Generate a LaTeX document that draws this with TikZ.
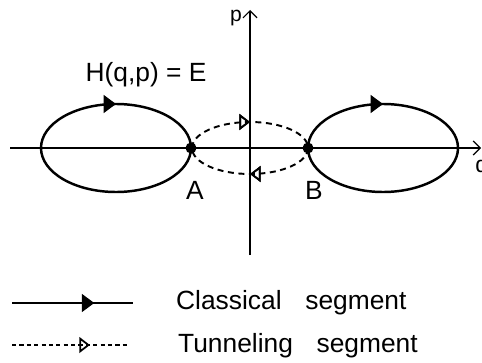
\documentclass[tikz,border=0pt]{standalone}
\usepackage{fontspec}
\setmainfont{Liberation Sans}
\usetikzlibrary{arrows.meta,decorations.markings}

\tikzset{
  orbit/.style={line width=1.4pt},
  tunnel/.style={line width=1.1pt, dash pattern=on 3.4pt off 2.6pt},
  axis/.style={line width=0.7pt, -{Straight Barb[length=4pt,width=8pt]}},
  solidtip/.style={postaction={decorate}, decoration={markings,
      mark=at position #1 with {\arrow{Triangle[length=7pt,width=10pt]}}}},
  opentip/.style={postaction={decorate}, decoration={markings,
      mark=at position #1 with {\arrow{Triangle[open,length=6pt,width=9pt,line width=1pt]}}}},
  turnpt/.style={circle, fill, inner sep=0pt, minimum size=0.22cm},
}

\begin{document}
\begin{tikzpicture}[x=0.02cm, y=0.02cm, font=\fontsize{15}{17}\selectfont]
  \useasboundingbox (0,0) rectangle (482,362);

  % axes
  \coordinate (qstart) at (10,214);
  \coordinate (qend) at (481,214);
  \coordinate (pstart) at (250,107);
  \coordinate (pend) at (250,352);
  \draw[axis] (qstart) -- (qend);
  \draw[axis] (pstart) -- (pend);
  \node (plabel) [font=\fontsize{12}{13}\selectfont] at (236,344) {p};
  \node (qlabel) [anchor=west, inner sep=0pt, font=\fontsize{13}{14}\selectfont] at (475,193) {q};

  % classical orbits
  \coordinate (A) at (191,214);
  \coordinate (B) at (308,214);
  \draw[orbit, solidtip=0.25] (41,214) arc[start angle=180, end angle=-180, x radius=75, y radius=44];
  \draw[orbit, solidtip=0.25] (B) arc[start angle=180, end angle=-180, x radius=75, y radius=44];

  % tunneling path
  \draw[tunnel, opentip=0.25, opentip=0.75] (192,214) arc[start angle=180, end angle=-180, x radius=58, y radius=26];

  \node (dotA) [turnpt] at (A) {};
  \node (dotB) [turnpt] at (B) {};
  \node (lblA) at (195,172) {A};
  \node (lblB) at (314,172) {B};
  \node (energy) at (146,287) {H(q,p) = E};

  % legend
  \coordinate (c1) at (12,59);
  \coordinate (c2) at (133,59);
  \coordinate (t1) at (12,17);
  \coordinate (t2) at (130,17);
  \draw[orbit, solidtip=0.68] (c1) -- (c2);
  \draw[line width=0.9pt, dash pattern=on 2.4pt off 1.8pt, opentip=0.66] (t1) -- (t2);
  \node (classtext) [anchor=west] at (170,59) {Classical\hspace{0.9em}segment};
  \node (tunneltext) [anchor=west] at (172,16) {Tunneling\hspace{0.9em}segment};
\end{tikzpicture}
\end{document}
